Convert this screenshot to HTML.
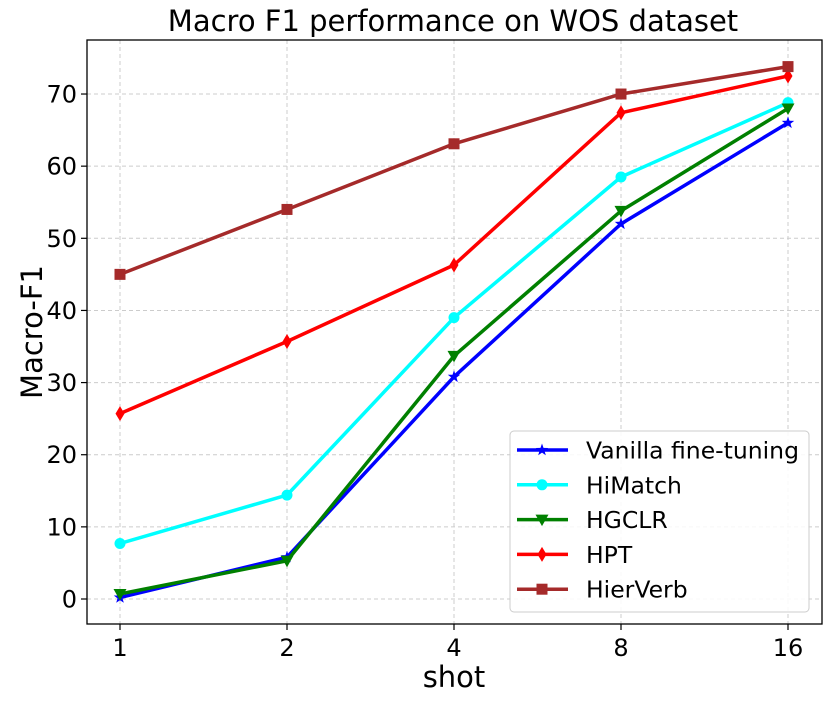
<!DOCTYPE html>
<html><head><meta charset="utf-8"><style>
body{margin:0;background:#fff;}
text{font-family:"DejaVu Sans","Liberation Sans",sans-serif;fill:#000;}
</style></head><body>
<svg id="chart" width="831" height="703" xmlns="http://www.w3.org/2000/svg">
<text x="453" y="31" font-size="29" text-anchor="middle">Macro F1 performance on WOS dataset</text>
<g id="grid"></g>
<g id="axes"></g>
<g id="series"></g>
<text x="454" y="687" font-size="29" text-anchor="middle">shot</text>
<text transform="translate(42,332) rotate(-90)" font-size="29" text-anchor="middle">Macro-F1</text>
<g id="legend"></g>
</svg>
<script>
const categories=["1","2","4","8","16"];
const yTicks=[0,10,20,30,40,50,60,70];
const seriesNames=["Vanilla fine-tuning","HiMatch","HGCLR","HPT","HierVerb"];
const vanilla=[0.2,5.8,30.8,52,66];
const himatch=[7.7,14.4,39,58.5,68.8];
const hgclr=[0.7,5.3,33.7,53.8,68];
const hpt=[25.7,35.7,46.3,67.4,72.5];
const hierverb=[45,54,63.1,70,73.8];

const NS="http://www.w3.org/2000/svg";
const L=87,R=822,T=40,B=624;
function xs(i){return 120+i*167;}
function ys(v){return 599-v*7.214;}
function mk(tag,attrs,parent){const e=document.createElementNS(NS,tag);for(const k in attrs)e.setAttribute(k,attrs[k]);parent.appendChild(e);return e;}
const grid=document.getElementById('grid'),axes=document.getElementById('axes'),ser=document.getElementById('series'),leg=document.getElementById('legend');
categories.forEach((c,i)=>{
 const g=mk('line',{x1:xs(i),x2:xs(i),y1:T,y2:B,stroke:'#ccc','stroke-dasharray':'4,3','stroke-width':1},grid);
 
 
 const t=mk('line',{x1:xs(i),x2:xs(i),y1:B,y2:B+6,stroke:'#000','stroke-width':1.2},axes);
 
 
 const tx=mk('text',{x:xs(i),y:B+32,'font-size':24,'text-anchor':'middle'},axes);tx.textContent=c;
 
 
});
yTicks.forEach(v=>{
 const g=mk('line',{x1:L,x2:R,y1:ys(v),y2:ys(v),stroke:'#ccc','stroke-dasharray':'4,3','stroke-width':1},grid);
 
 
 const t=mk('line',{x1:L-6,x2:L,y1:ys(v),y2:ys(v),stroke:'#000','stroke-width':1.2},axes);
 
 
 const tx=mk('text',{x:L-10,y:ys(v)+8.5,'font-size':24,'text-anchor':'end'},axes);tx.textContent=v;
 
 
});
const frame=mk('rect',{x:L,y:T,width:R-L,height:B-T,fill:'none',stroke:'#000','stroke-width':1.3},axes);



const datasets=[vanilla,himatch,hgclr,hpt,hierverb];
const colors=['#0000ff','#00ffff','#008000','#ff0000','#a52a2a'];
const markers=['star','circle','tri','diamond','square'];
function marker(type,x,y,col,parent){
 let e;
 if(type==='circle')e=mk('circle',{cx:x,cy:y,r:5.5,fill:col},parent);
 else if(type==='square')e=mk('rect',{x:x-5.5,y:y-5.5,width:11,height:11,fill:col},parent);
 else if(type==='tri')e=mk('polygon',{points:`${x-6.5},${y-5} ${x+6.5},${y-5} ${x},${y+6.5}`,fill:col},parent);
 else if(type==='diamond')e=mk('polygon',{points:`${x},${y-7.5} ${x+4.5},${y} ${x},${y+7.5} ${x-4.5},${y}`,fill:col},parent);
 else{let p=[];for(let k=0;k<10;k++){const r=k%2?2.6:6.5,a=-Math.PI/2+k*Math.PI/5;p.push((x+r*Math.cos(a)).toFixed(1)+','+(y+r*Math.sin(a)).toFixed(1));}
  e=mk('polygon',{points:p.join(' '),fill:col},parent);}
 return e;
}
datasets.forEach((d,s)=>{
 const g=mk('g',{},ser);
 
 
 const pl=mk('polyline',{points:d.map((v,i)=>xs(i)+','+ys(v)).join(' '),fill:'none',stroke:colors[s],'stroke-width':3.5,'stroke-linejoin':'round'},g);
 
 
 d.forEach((v,i)=>{const m=marker(markers[s],xs(i),ys(v),colors[s],g);
  
  });
});
const box=mk('rect',{x:510,y:431,width:299,height:181,rx:4,fill:'#fff','fill-opacity':0.85,stroke:'#ccc','stroke-width':1},leg);


seriesNames.forEach((n,s)=>{
 const y=450+s*34.8;
 const g=mk('g',{},leg);
 
 
 mk('line',{x1:517,x2:568,y1:y,y2:y,stroke:colors[s],'stroke-width':3.5},g);
 marker(markers[s],542,y,colors[s],g);
 const t=mk('text',{x:586,y:y+8.5,'font-size':23.5},g);t.textContent=n;
});
</script>
</body></html>
